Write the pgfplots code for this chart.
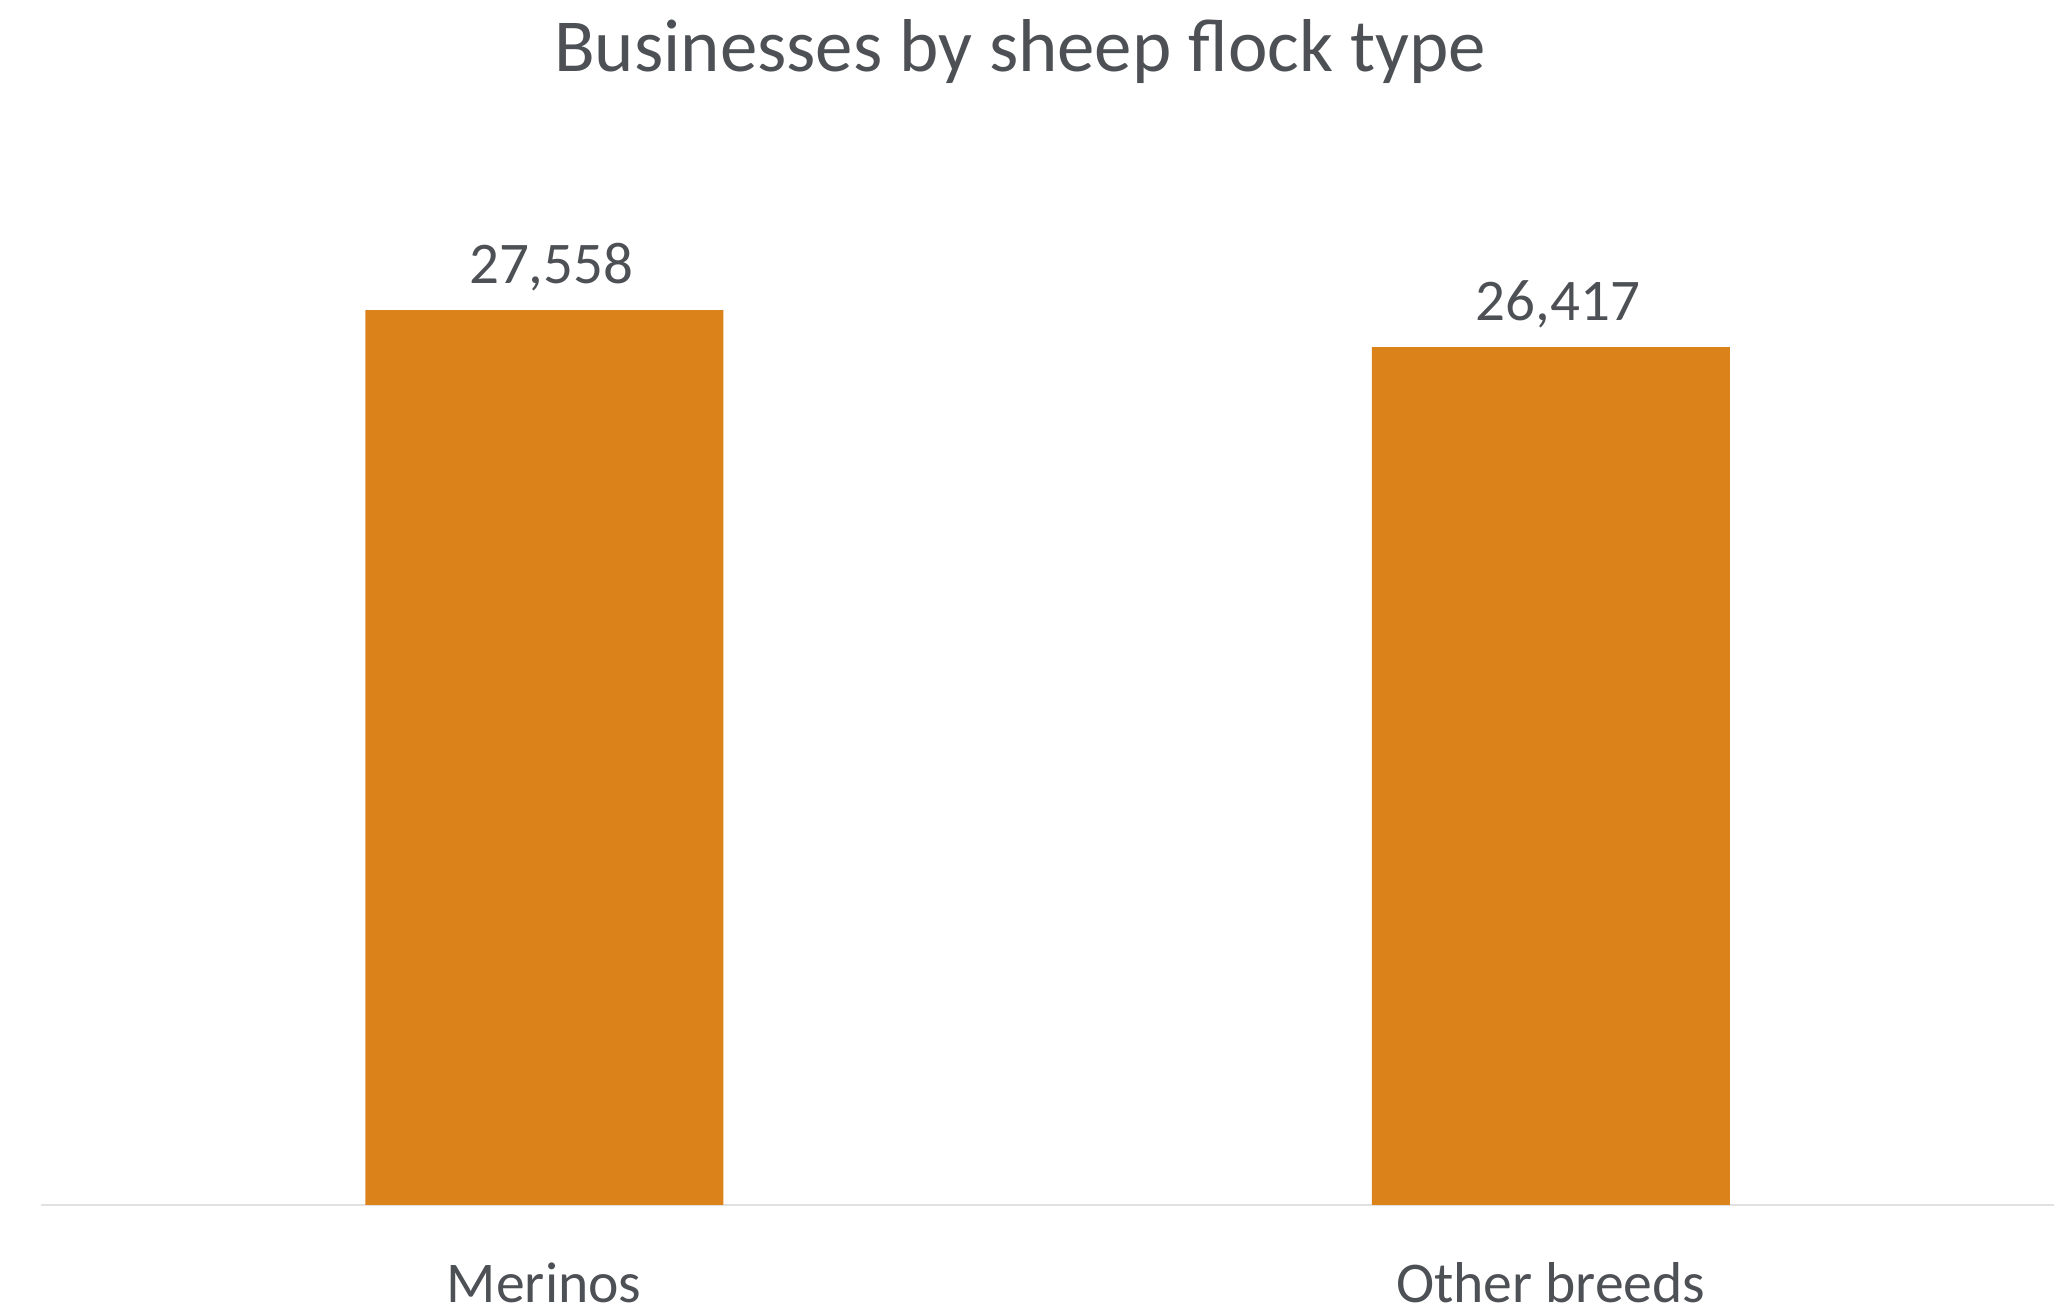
\documentclass[border=0pt]{standalone}
\usepackage{pgfplots}
\pgfplotsset{compat=1.18}
\usepackage{fontspec}
\setmainfont{Carlito}
\definecolor{txt}{RGB}{77,80,85}
\definecolor{barc}{RGB}{219,130,26}
\definecolor{axl}{RGB}{225,225,225}
\begin{document}
\begin{tikzpicture}
\useasboundingbox (0,0) rectangle (205.4mm,130.6mm);
\node[anchor=base, text=txt, font=\fontsize{21.3pt}{25pt}\selectfont, inner sep=0pt] at (102mm,123.4mm) {Businesses by sheep flock type};
\begin{axis}[
  at={(4.1mm,10.1mm)}, anchor=south west,
  scale only axis, width=201.3mm, height=110.4mm,
  xmin=-0.5, xmax=1.5, ymin=0, ymax=34000, enlargelimits=false,
  axis x line*=bottom, axis y line=none,
  x axis line style={-, draw=axl, line width=0.2mm},
  xtick={0,1}, xticklabels={Merinos, Other breeds},
  xtick style={draw=none},
  xticklabel style={anchor=base, inner sep=0pt, yshift=-8.3mm, text=txt, font=\fontsize{16.4pt}{19pt}\selectfont},
  ytick=\empty,
  ybar, bar width=35.8mm,
  nodes near coords={\pgfmathprintnumber[assume math mode=true,1000 sep={,}]{\pgfplotspointmeta}},
  every node near coord/.append style={anchor=base, yshift=2.7mm, xshift=0.7mm, inner sep=0pt, text=txt, font=\fontsize{16.8pt}{19pt}\selectfont},
  clip=false,
]
\addplot[fill=barc, draw=none] coordinates {(0,27558) (1,26417)};
\end{axis}
\end{tikzpicture}
\end{document}
